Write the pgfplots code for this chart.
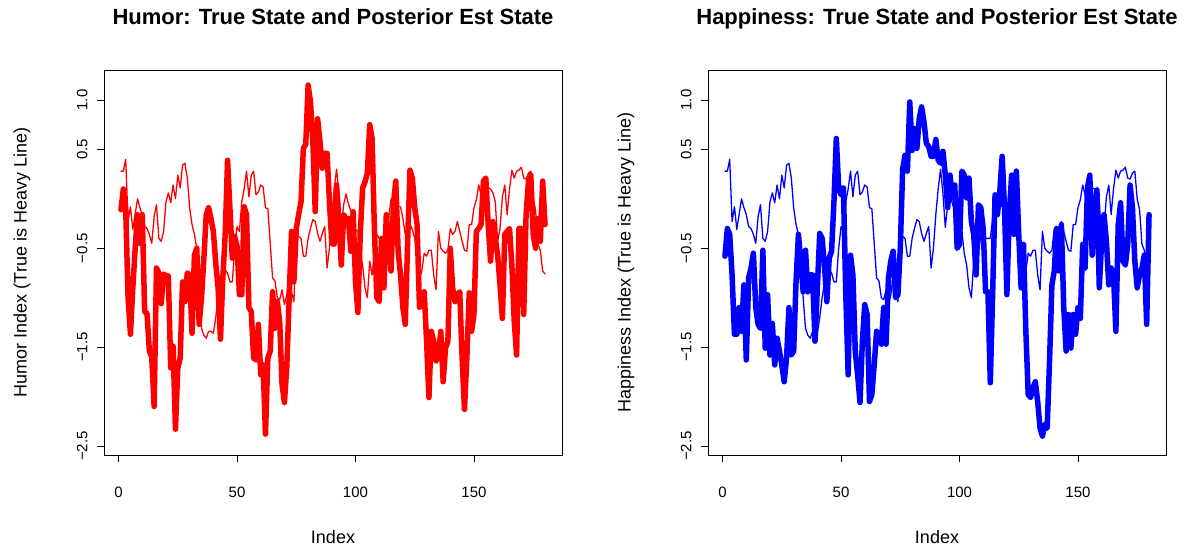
\documentclass[border=0pt]{standalone}
\usepackage{fontspec}
\setmainfont{Liberation Sans}
\usepackage{pgfplots}
\usepackage{pgfplotstable}
\pgfplotsset{compat=1.18}
\pgfplotstableread{
i T H P
1 0.28 -0.11 -0.58
2 0.28 0.10 -0.30
3 0.40 -0.10 -0.36
4 -0.23 -1.00 -0.77
5 -0.08 -1.37 -1.37
6 -0.31 -0.90 -1.37
7 -0.15 -0.50 -1.10
8 0.00 -0.16 -1.34
9 -0.09 -0.45 -0.87
10 -0.16 -0.16 -1.63
11 -0.28 -1.14 -0.80
12 -0.30 -1.16 -0.70
13 -0.36 -1.54 -0.55
14 -0.45 -1.60 -1.10
15 -0.18 -2.10 -1.27
16 -0.06 -0.70 -1.31
17 -0.40 -0.75 -0.52
18 -0.43 -1.06 -1.51
19 -0.33 -0.76 -0.97
20 -0.03 -0.78 -1.58
21 0.06 -0.78 -1.26
22 -0.04 -1.71 -1.68
23 0.14 -1.49 -1.41
24 0.00 -2.33 -1.54
25 0.24 -1.71 -1.68
26 0.11 -1.61 -1.85
27 0.34 -0.84 -1.61
28 0.36 -1.04 -1.10
29 0.21 -0.75 -1.58
30 -0.09 -0.77 -1.54
31 -0.26 -1.36 -0.84
32 -0.36 -0.57 -0.36
33 -0.50 -0.50 -0.63
34 -1.00 -1.27 -0.94
35 -1.31 -1.00 -0.52
36 -1.38 -0.60 -0.94
37 -1.41 -0.16 -0.77
38 -1.34 -0.09 -0.77
39 -1.34 -0.20 -1.44
40 -1.36 -0.33 -0.90
41 -1.20 -0.65 -0.35
42 -1.00 -0.90 -0.40
43 -0.85 -1.42 -0.67
44 -0.77 -0.80 -1.04
45 -0.72 -0.36 -0.60
46 -0.75 0.39 -0.53
47 -0.84 -0.10 -0.03
48 -0.84 -0.60 0.61
49 -0.50 -0.38 0.11
50 -0.28 -0.48 0.04
51 -0.33 -0.97 0.11
52 -0.03 -0.97 -0.97
53 0.10 -0.08 -1.78
54 0.28 -0.16 -0.57
55 0.02 -1.10 -0.77
56 0.24 -1.14 -1.54
57 0.28 -1.61 -1.78
58 0.04 -1.63 -2.06
59 0.07 -1.27 -1.44
60 0.14 -1.78 -1.07
61 0.12 -1.68 -1.17
62 -0.09 -2.38 -2.05
63 -0.10 -1.61 -1.98
64 -0.45 -1.54 -1.68
65 -0.80 -0.94 -1.34
66 -0.83 -1.31 -1.41
67 -1.00 -1.04 -1.47
68 -1.02 -1.24 -1.10
69 -0.92 -1.88 -1.47
70 -1.07 -2.06 -0.80
71 -0.97 -1.70 -0.63
72 -0.77 -1.00 -0.53
73 -0.94 -0.33 -1.00
74 -1.04 -0.84 -0.97
75 -0.36 -0.30 -0.50
76 -0.38 -0.16 0.30
77 -0.40 -0.03 0.44
78 -0.58 0.51 0.28
79 -0.58 0.55 0.98
80 -0.40 1.15 0.49
81 -0.30 0.98 0.71
82 -0.21 0.58 0.51
83 -0.23 -0.13 0.81
84 -0.35 0.81 0.93
85 -0.43 0.58 0.78
86 -0.35 0.31 0.56
87 -0.28 0.46 0.53
88 -0.70 0.46 0.43
89 -0.50 -0.03 0.43
90 -0.16 -0.45 0.60
91 0.10 -0.46 0.39
92 0.30 0.14 0.36
93 0.06 -0.23 0.48
94 -0.29 -0.67 0.24
95 -0.06 -0.16 -0.09
96 0.05 -0.20 0.24
97 -0.05 -0.20 0.01
98 -0.12 -0.53 0.14
99 -0.20 -0.13 -0.50
100 -0.31 -0.84 -0.46
101 -0.33 -1.15 0.28
102 -0.55 -0.36 0.24
103 -0.67 0.11 0.01
104 -0.90 0.17 0.21
105 -1.00 0.26 -0.23
106 -0.63 0.75 -0.36
107 -0.77 0.61 -0.77
108 -0.55 -0.33 -0.06
109 -0.36 -1.00 -0.09
110 -0.40 -1.04 -0.30
111 -0.40 -0.40 -0.94
112 -0.40 -0.90 -0.94
113 -0.40 -0.16 -1.86
114 -0.20 -0.45 -0.94
115 0.00 -0.73 0.04
116 -0.01 -0.06 -0.16
117 -0.01 0.18 0.07
118 -0.08 -0.53 0.43
119 -0.08 -0.77 -0.09
120 -0.20 -1.10 -0.97
121 -0.36 -1.27 -0.16
122 -0.36 -0.43 0.24
123 -0.26 0.29 -0.36
124 -0.31 0.21 0.28
125 -0.40 -0.09 -0.36
126 -0.60 -0.26 -0.90
127 -0.80 -1.10 -0.46
128 -0.73 -1.07 -1.34
129 -0.55 -0.94 -1.98
130 -0.58 -1.44 -2.01
131 -0.52 -2.01 -1.91
132 -0.52 -1.34 -1.85
133 -0.77 -1.44 -2.05
134 -0.92 -1.64 -2.32
135 -0.33 -1.58 -2.40
136 -0.50 -1.34 -2.28
137 -0.53 -1.85 -2.32
138 -0.55 -1.51 -1.64
139 -0.52 -1.44 -0.87
140 -0.30 -0.50 -0.73
141 -0.36 -0.90 -0.30
142 -0.33 -1.04 -0.73
143 -0.23 -0.97 -0.26
144 -0.33 -0.94 -1.10
145 -0.43 -1.61 -1.54
146 -0.52 -2.13 -1.17
147 -0.53 -1.61 -1.51
148 -0.26 -0.95 -1.17
149 -0.26 -1.34 -1.37
150 -0.09 -1.17 -1.10
151 -0.01 -0.33 -1.21
152 0.14 -0.30 -0.46
153 0.04 -0.26 -0.70
154 0.14 0.18 0.11
155 0.11 0.21 0.24
156 0.11 -0.26 -0.57
157 0.10 -0.63 -0.09
158 0.06 -0.23 0.09
159 -0.03 -0.40 -0.90
160 -0.43 -0.57 -0.43
161 -0.30 -0.87 -0.16
162 0.02 -1.21 -0.43
163 0.14 -0.36 -0.87
164 -0.16 -0.33 -0.70
165 0.10 -0.30 -0.77
166 0.29 -0.67 -1.34
167 0.21 -1.24 -0.26
168 0.28 -1.58 -0.04
169 0.29 -0.30 -0.63
170 0.32 -0.30 -0.67
171 0.21 -1.17 -0.46
172 0.20 -0.16 0.14
173 0.26 0.18 -0.09
174 0.28 0.24 -0.63
175 0.00 -0.36 -0.90
176 -0.11 -0.50 -0.77
177 -0.46 -0.20 -0.70
178 -0.52 -0.43 -0.57
179 -0.73 0.18 -1.27
180 -0.76 -0.26 -0.16
}\data

\pgfplotsset{rbase/.style={
  scale only axis, width=458pt, height=385pt, anchor=south west,
  xmin=-6.16, xmax=187.16, ymin=-2.591, ymax=1.303,
  xtick={0,50,100,150}, ytick={-2.5,-1.5,-0.5,0.5,1.0},
  yticklabels={−2.5,−1.5,−0.5,0.5,1.0},
  tick align=outside, major tick length=7pt,
  xtick pos=lower, ytick pos=left,
  tick style={black, line width=0.8pt},
  axis line style={black, line width=0.8pt},
  /pgf/number format/assume math mode=true,
  ticklabel style={font=\fontsize{15}{18}\selectfont},
  xticklabel style={anchor=north, yshift=-21pt},
  yticklabel style={xshift=-6pt, rotate=90, anchor=south},
  label style={font=\fontsize{18}{21}\selectfont},
  title style={font=\bfseries\fontsize{22}{26}\selectfont, at={(axis description cs:0.5,1)}, anchor=base, yshift=39pt},
  xlabel style={at={(axis description cs:0.5,0)}, anchor=center, yshift=-82pt},
  ylabel style={at={([xshift=-82pt]axis description cs:0,0.5)}, anchor=center},
  every axis plot/.append style={line join=round, line cap=round, mark=none},
}}

\begin{document}
\begin{tikzpicture}
\path (0pt,0pt) rectangle (1200pt,550pt);
\begin{axis}[rbase, at={(104pt,95pt)},
  title={Humor: True State and Posterior Est State},
  xlabel={Index}, ylabel={Humor Index (True is Heavy Line)}]
\addplot[red, line width=5.5pt] table[x=i,y=H]{\data};
\addplot[red, line width=1.3pt] table[x=i,y=T]{\data};
\end{axis}
\begin{axis}[rbase, at={(708pt,95pt)},
  title={Happiness: True State and Posterior Est State},
  xlabel={Index}, ylabel={Happiness Index (True is Heavy Line)}]
\addplot[blue, line width=5.5pt] table[x=i,y=P]{\data};
\addplot[blue, line width=1.3pt] table[x=i,y=T]{\data};
\end{axis}
\end{tikzpicture}
\end{document}
